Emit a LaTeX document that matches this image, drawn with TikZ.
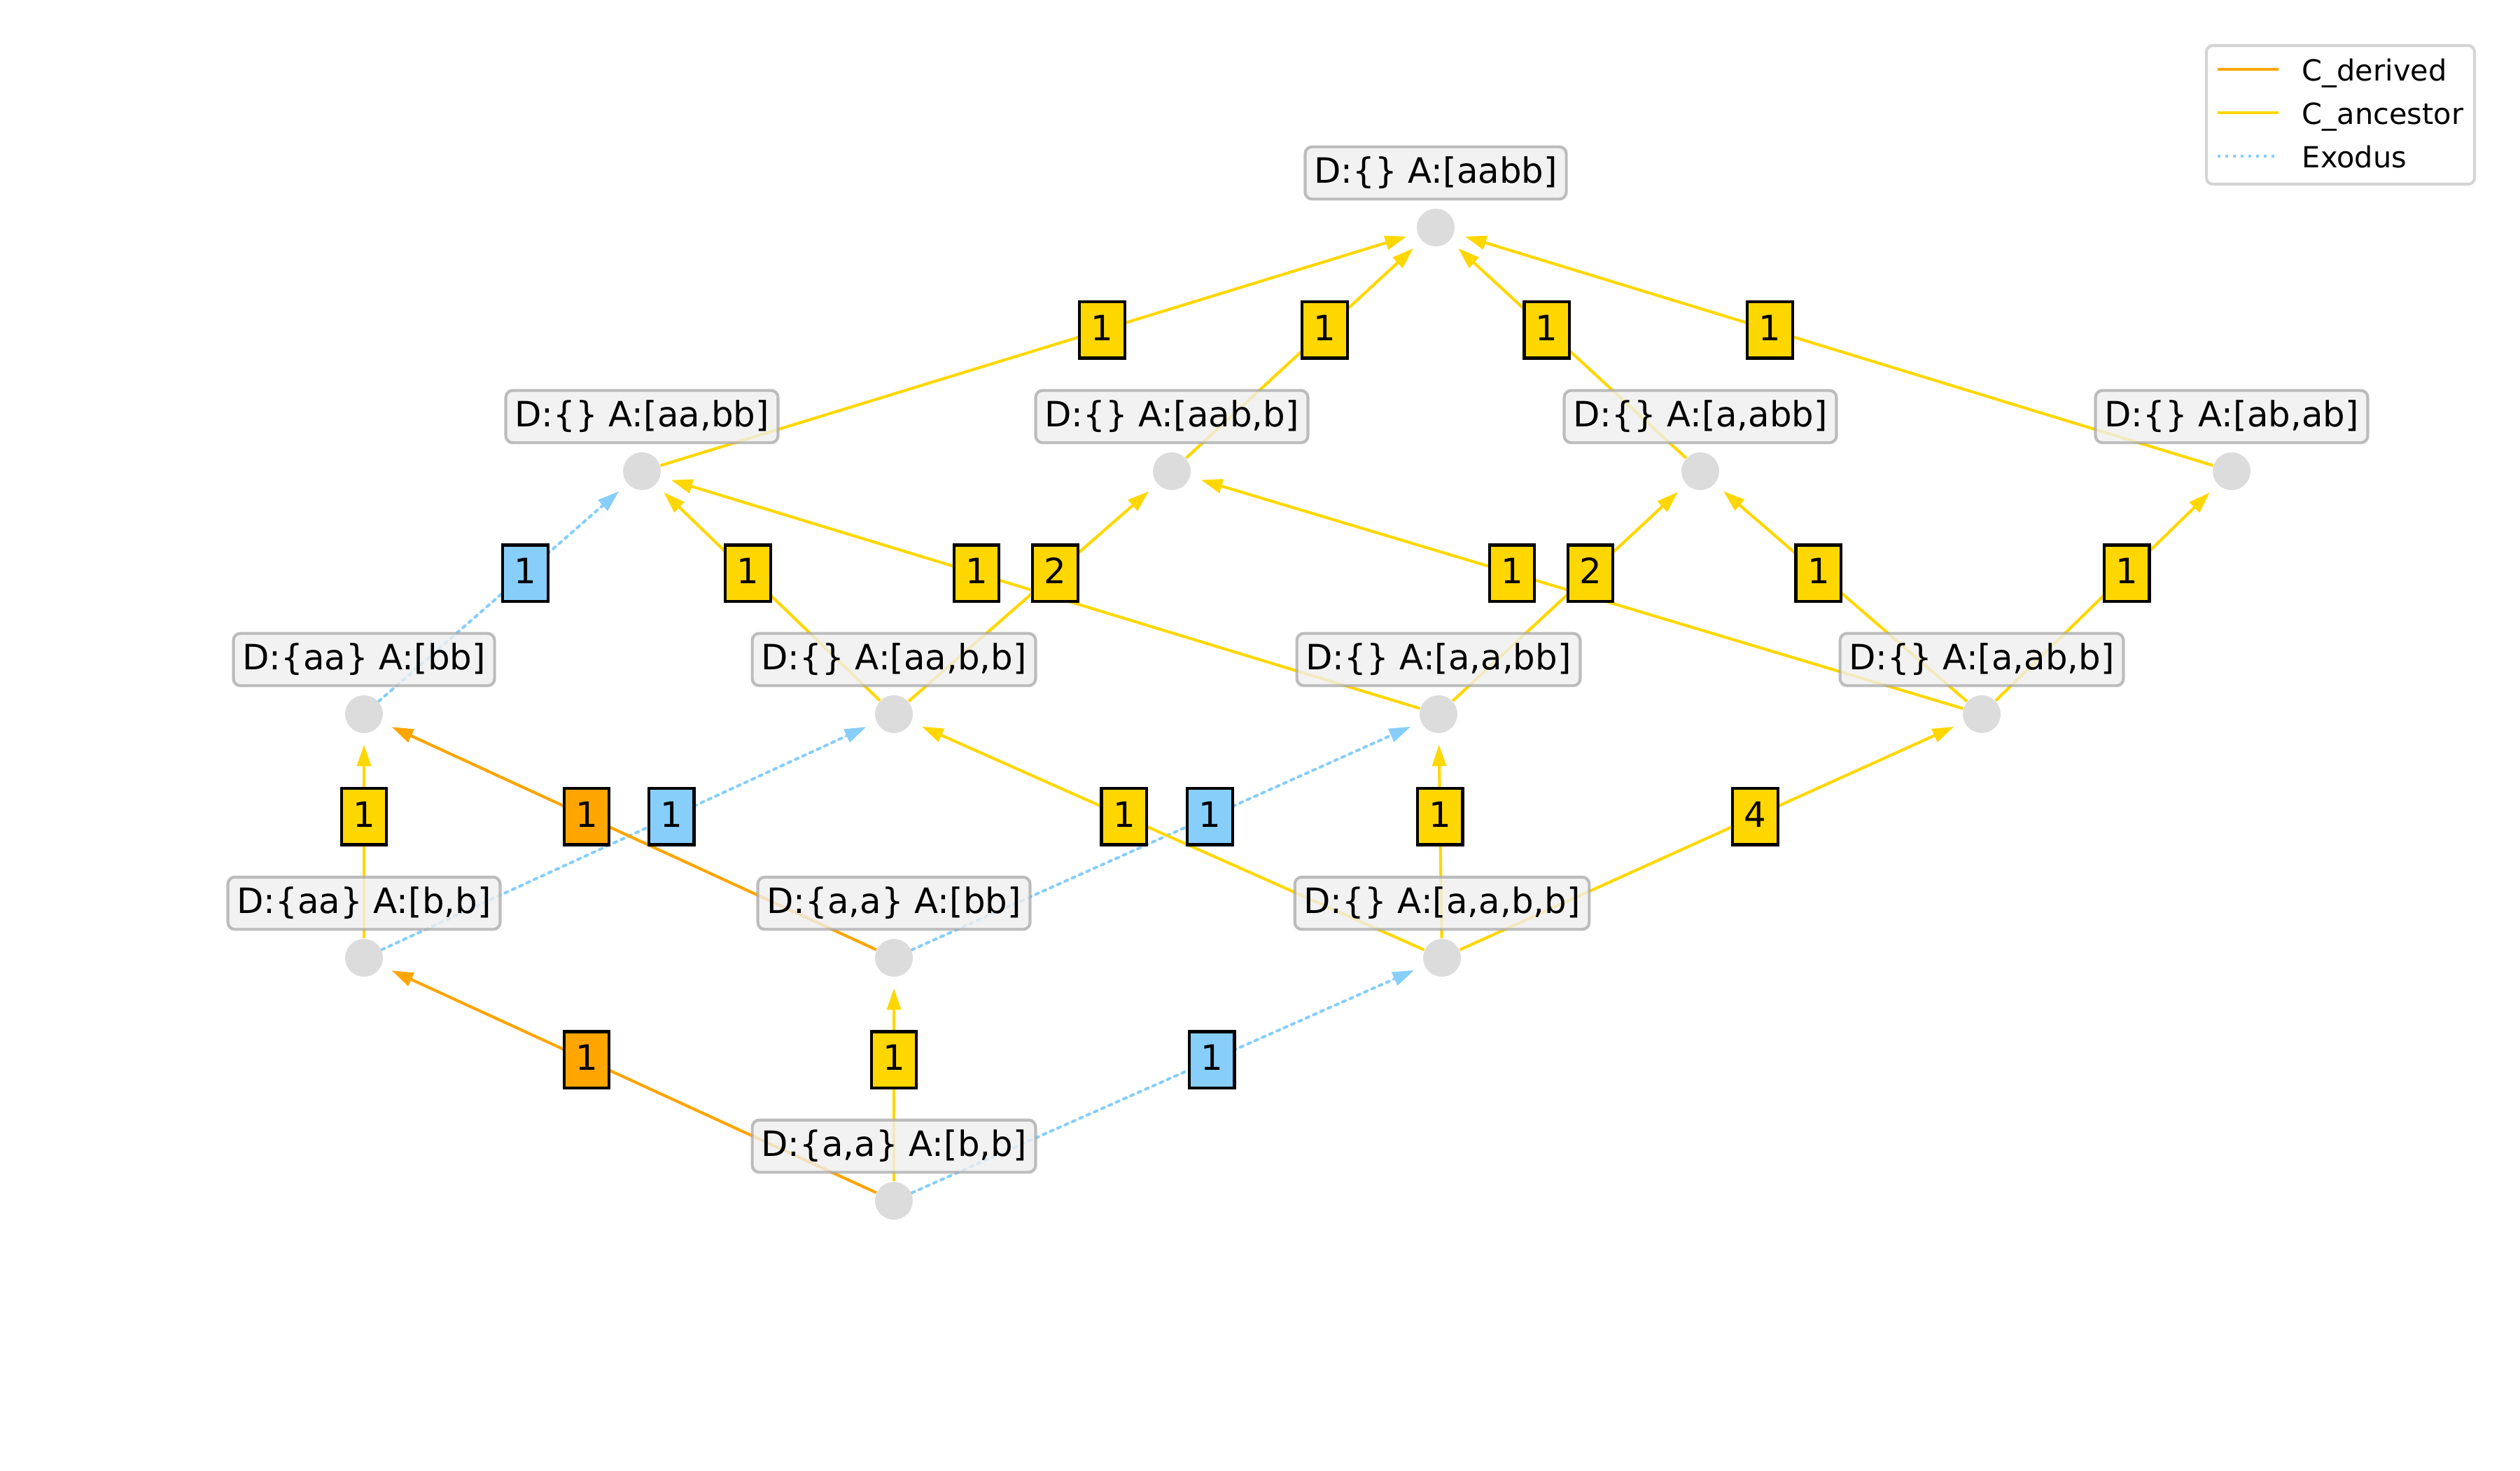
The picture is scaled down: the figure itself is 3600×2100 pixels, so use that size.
\documentclass[tikz,border=0pt]{standalone}
\usepackage{fontspec}
\setmainfont{DejaVu Sans}
\usetikzlibrary{arrows.meta,calc}
\definecolor{cder}{HTML}{FFA500}
\definecolor{canc}{HTML}{FFD700}
\definecolor{cexo}{HTML}{87CEFA}
\definecolor{dotc}{HTML}{DCDCDC}
\definecolor{boxf}{HTML}{EFEFEF}
\definecolor{boxd}{HTML}{A8A8A8}
\definecolor{legd}{HTML}{D4D4D4}
\pgfdeclarelayer{bg}
\pgfsetlayers{bg,main}
\begin{document}
\begin{tikzpicture}[x=0.0084667cm, y=-0.0084667cm,
  dotn/.style={circle, fill=dotc, inner sep=0pt, minimum size=13pt},
  nlab/.style={draw=boxd, draw opacity=0.75, fill=boxf, fill opacity=0.8, text opacity=1,
    rounded corners=2.4pt, line width=1pt, inner xsep=3.1pt, inner ysep=0pt,
    minimum height=18pt, text height=9.3pt, text depth=2.1pt, font=\fontsize{12}{14}\selectfont},
  elab/.style={draw=black, line width=1pt, inner sep=0pt, minimum width=15.6pt,
    minimum height=19.4pt, text height=10pt, text depth=2.8pt, font=\fontsize{12}{14}\selectfont},
  edgeln/.style={line width=1pt, shorten >=3.8pt, -{Triangle[length=7.4pt,width=4.8pt]}},
  anc/.style={edgeln, draw=canc, fill=canc},
  der/.style={edgeln, draw=cder, fill=cder},
  exo/.style={edgeln, draw=cexo, fill=cexo, dash pattern=on 1pt off 1.75pt, line cap=round},
  ancl/.style={elab, fill=canc},
  derl/.style={elab, fill=cder},
  exol/.style={elab, fill=cexo},
]
\useasboundingbox (0,0) rectangle (3600,2100);

% state dots
\node[dotn] (n0) at (2051,325) {};
\node[dotn] (n1) at (917,673) {};
\node[dotn] (n2) at (1674,673) {};
\node[dotn] (n3) at (2429,673) {};
\node[dotn] (n4) at (3188,673) {};
\node[dotn] (n5) at (520,1020) {};
\node[dotn] (n6) at (1277,1020) {};
\node[dotn] (n7) at (2055,1020) {};
\node[dotn] (n8) at (2831,1020) {};
\node[dotn] (n9) at (520,1368) {};
\node[dotn] (n10) at (1277,1368) {};
\node[dotn] (n11) at (2060,1368) {};
\node[dotn] (n12) at (1277,1715) {};

% edges
\begin{pgfonlayer}{bg}
\draw[anc] (n1) -- (n0);
\draw[anc] (n2) -- (n0);
\draw[anc] (n3) -- (n0);
\draw[anc] (n4) -- (n0);
\draw[exo] (n5) -- (n1);
\draw[anc] (n6) -- (n1);
\draw[anc] (n6) -- (n2);
\draw[anc] (n7) -- (n1);
\draw[anc] (n7) -- (n3);
\draw[anc] (n8) -- (n2);
\draw[anc] (n8) -- (n3);
\draw[anc] (n8) -- (n4);
\draw[anc] (n9) -- (n5);
\draw[exo] (n9) -- (n6);
\draw[der] (n10) -- (n5);
\draw[exo] (n10) -- (n7);
\draw[anc] (n11) -- (n6);
\draw[anc] (n11) -- (n7);
\draw[anc] (n11) -- (n8);
\draw[der] (n12) -- (n9);
\draw[anc] (n12) -- (n10);
\draw[exo] (n12) -- (n11);
\end{pgfonlayer}

% state labels
\node[nlab] (t0) at ($(n0)+(0,-78)$) {D:\{\} A:[aabb]};
\node[nlab] (t1) at ($(n1)+(0,-78)$) {D:\{\} A:[aa,bb]};
\node[nlab] (t2) at ($(n2)+(0,-78)$) {D:\{\} A:[aab,b]};
\node[nlab] (t3) at ($(n3)+(0,-78)$) {D:\{\} A:[a,abb]};
\node[nlab] (t4) at ($(n4)+(0,-78)$) {D:\{\} A:[ab,ab]};
\node[nlab] (t5) at ($(n5)+(0,-78)$) {D:\{aa\} A:[bb]};
\node[nlab] (t6) at ($(n6)+(0,-78)$) {D:\{\} A:[aa,b,b]};
\node[nlab] (t7) at ($(n7)+(0,-78)$) {D:\{\} A:[a,a,bb]};
\node[nlab] (t8) at ($(n8)+(0,-78)$) {D:\{\} A:[a,ab,b]};
\node[nlab] (t9) at ($(n9)+(0,-78)$) {D:\{aa\} A:[b,b]};
\node[nlab] (t10) at ($(n10)+(0,-78)$) {D:\{a,a\} A:[bb]};
\node[nlab] (t11) at ($(n11)+(0,-78)$) {D:\{\} A:[a,a,b,b]};
\node[nlab] (t12) at ($(n12)+(0,-78)$) {D:\{a,a\} A:[b,b]};

% edge labels
\node[ancl] (l1) at ($(n1)!0.58!(n0)$) {1};
\node[ancl] (l2) at ($(n2)!0.58!(n0)$) {1};
\node[ancl] (l3) at ($(n3)!0.58!(n0)$) {1};
\node[ancl] (l4) at ($(n4)!0.58!(n0)$) {1};
\node[exol] (l5) at ($(n5)!0.58!(n1)$) {1};
\node[ancl] (l6) at ($(n6)!0.58!(n1)$) {1};
\node[ancl] (l7) at ($(n6)!0.58!(n2)$) {2};
\node[ancl] (l8) at ($(n7)!0.58!(n1)$) {1};
\node[ancl] (l9) at ($(n7)!0.58!(n3)$) {2};
\node[ancl] (l10) at ($(n8)!0.58!(n2)$) {1};
\node[ancl] (l11) at ($(n8)!0.58!(n3)$) {1};
\node[ancl] (l12) at ($(n8)!0.58!(n4)$) {1};
\node[ancl] (l13) at ($(n9)!0.58!(n5)$) {1};
\node[exol] (l14) at ($(n9)!0.58!(n6)$) {1};
\node[derl] (l15) at ($(n10)!0.58!(n5)$) {1};
\node[exol] (l16) at ($(n10)!0.58!(n7)$) {1};
\node[ancl] (l17) at ($(n11)!0.58!(n6)$) {1};
\node[ancl] (l18) at ($(n11)!0.58!(n7)$) {1};
\node[ancl] (l19) at ($(n11)!0.58!(n8)$) {4};
\node[derl] (l20) at ($(n12)!0.58!(n9)$) {1};
\node[ancl] (l21) at ($(n12)!0.58!(n10)$) {1};
\node[exol] (l22) at ($(n12)!0.58!(n11)$) {1};

% legend
\draw[draw=legd, line width=1pt, fill=white, rounded corners=2.2pt] (3152,65) rectangle (3535,263);
\coordinate (g1a) at (3168,99);  \coordinate (g1b) at (3255,99);
\coordinate (g2a) at (3168,161); \coordinate (g2b) at (3255,161);
\coordinate (g3a) at (3168,223); \coordinate (g3b) at (3255,223);
\draw[cder, line width=1pt] (g1a) -- (g1b);
\draw[canc, line width=1pt] (g2a) -- (g2b);
\draw[cexo, line width=1pt, dash pattern=on 1pt off 1.65pt] (g3a) -- (g3b);
\node[anchor=base west, inner sep=0pt, font=\fontsize{10}{12}\selectfont] (gt1) at (3288,115) {C\_derived};
\node[anchor=base west, inner sep=0pt, font=\fontsize{10}{12}\selectfont] (gt2) at (3288,177) {C\_ancestor};
\node[anchor=base west, inner sep=0pt, font=\fontsize{10}{12}\selectfont] (gt3) at (3288,239) {Exodus};
\end{tikzpicture}
\end{document}
